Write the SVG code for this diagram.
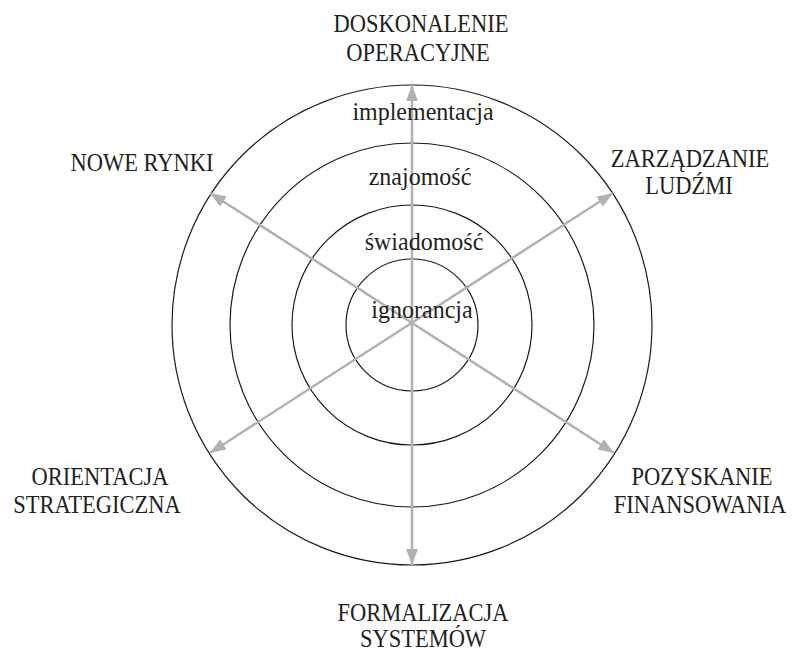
<svg xmlns="http://www.w3.org/2000/svg" width="792" height="651" viewBox="0 0 792 651">
<style>
.ring{fill:none;stroke:#1a1a1a;stroke-width:1.2}
.ax{stroke:#b0b1b3;stroke-width:2.5;fill:none;marker-start:url(#ah);marker-end:url(#ah)}
.t{font-family:"Liberation Serif","Times New Roman",serif;font-size:25px;fill:#231f20;text-anchor:middle}
.s{font-family:"Liberation Serif","Times New Roman",serif;font-size:25px;fill:#231f20;text-anchor:middle}
</style>
<defs>
<marker id="ah" viewBox="0 0 16 12" refX="16" refY="6" markerWidth="16" markerHeight="12" markerUnits="userSpaceOnUse" orient="auto-start-reverse">
<path d="M0,0 L16,6 L0,12 Z" fill="#b0b1b3"/>
</marker>
</defs>
<rect width="792" height="651" fill="#fff"/>
<g id="rings">
<circle class="ring" cx="412" cy="325" r="240"/>
<circle class="ring" cx="412" cy="325" r="182"/>
<circle class="ring" cx="412" cy="325" r="120"/>
<circle class="ring" cx="412" cy="325" r="66"/>
</g>
<g id="connectors">
<line class="ax" x1="412" y1="565" x2="412" y2="85"/>
<line class="ax" x1="210" y1="453" x2="613" y2="193"/>
<line class="ax" x1="210" y1="193" x2="614" y2="453"/>
</g>
<g id="level-labels">
<text class="s" transform="translate(423,120) scale(0.96,1)">implementacja</text>
<text class="s" transform="translate(420,185) scale(0.96,1)">znajomość</text>
<text class="s" transform="translate(424,250) scale(0.96,1)">świadomość</text>
<text class="s" transform="translate(422,318) scale(0.96,1)">ignorancja</text>
</g>
<g id="n-doskonalenie"><text class="t" transform="translate(421,32) scale(0.9,1)">DOSKONALENIE</text><text class="t" transform="translate(418,61) scale(0.9,1)">OPERACYJNE</text></g>
<g id="n-zarzadzanie"><text class="t" transform="translate(690,167) scale(0.9,1)">ZARZĄDZANIE</text><text class="t" transform="translate(689,194) scale(0.9,1)">LUDŹMI</text></g>
<g id="n-pozyskanie"><text class="t" transform="translate(702,485) scale(0.9,1)">POZYSKANIE</text><text class="t" transform="translate(700,513) scale(0.9,1)">FINANSOWANIA</text></g>
<g id="n-formalizacja"><text class="t" transform="translate(423,621) scale(0.9,1)">FORMALIZACJA</text><text class="t" transform="translate(423,647) scale(0.9,1)">SYSTEMÓW</text></g>
<g id="n-orientacja"><text class="t" transform="translate(100,485) scale(0.9,1)">ORIENTACJA</text><text class="t" transform="translate(97,513) scale(0.9,1)">STRATEGICZNA</text></g>
<g id="n-nowe-rynki"><text class="t" transform="translate(142,171) scale(0.9,1)">NOWE RYNKI</text></g>
</svg>
